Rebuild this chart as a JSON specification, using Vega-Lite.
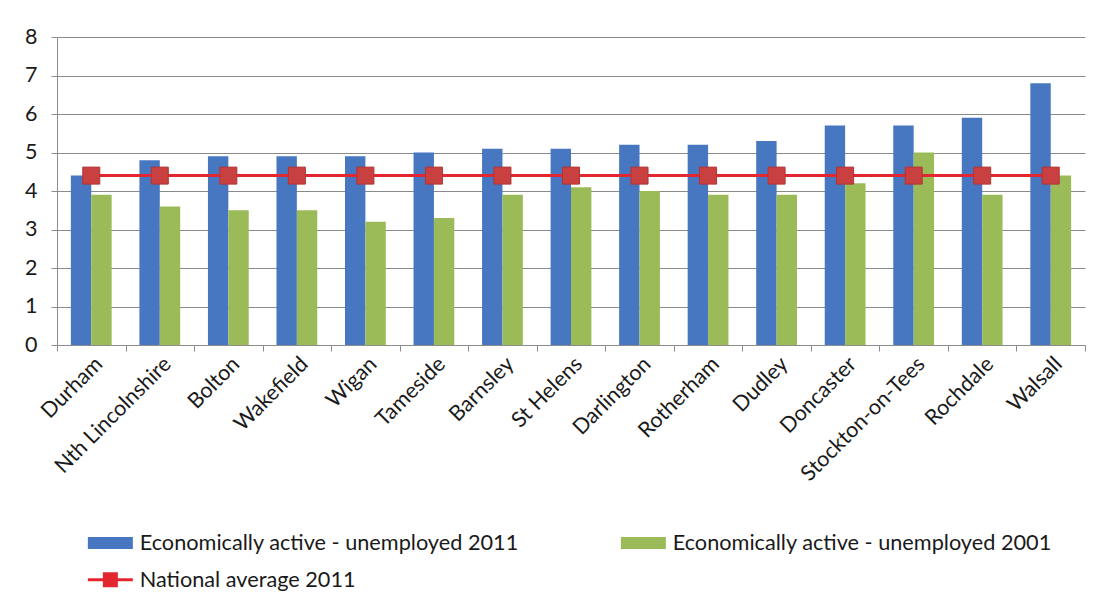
{
  "$schema": "https://vega.github.io/schema/vega-lite/v6.json",
  "autosize": {"type": "none"},
  "padding": {"left": 57, "top": 37, "right": 31, "bottom": 261},
  "width": 1028,
  "height": 308,
  "background": "white",
  "config": {
    "font": "Lato",
    "view": {"stroke": null},
    "axis": {"labelFont": "Lato", "labelFontSize": 21.5, "labelColor": "#1a1a1a", "titleFont": "Lato"},
    "legend": {"labelFont": "Lato", "labelFontSize": 21.7, "labelColor": "#1a1a1a"}
  },
  "data": {
    "values": [
      {"area": "Durham", "series": "Economically active - unemployed 2011", "value": 4.4},
      {"area": "Nth Lincolnshire", "series": "Economically active - unemployed 2011", "value": 4.8},
      {"area": "Bolton", "series": "Economically active - unemployed 2011", "value": 4.9},
      {"area": "Wakefield", "series": "Economically active - unemployed 2011", "value": 4.9},
      {"area": "Wigan", "series": "Economically active - unemployed 2011", "value": 4.9},
      {"area": "Tameside", "series": "Economically active - unemployed 2011", "value": 5.0},
      {"area": "Barnsley", "series": "Economically active - unemployed 2011", "value": 5.1},
      {"area": "St Helens", "series": "Economically active - unemployed 2011", "value": 5.1},
      {"area": "Darlington", "series": "Economically active - unemployed 2011", "value": 5.2},
      {"area": "Rotherham", "series": "Economically active - unemployed 2011", "value": 5.2},
      {"area": "Dudley", "series": "Economically active - unemployed 2011", "value": 5.3},
      {"area": "Doncaster", "series": "Economically active - unemployed 2011", "value": 5.7},
      {"area": "Stockton-on-Tees", "series": "Economically active - unemployed 2011", "value": 5.7},
      {"area": "Rochdale", "series": "Economically active - unemployed 2011", "value": 5.9},
      {"area": "Walsall", "series": "Economically active - unemployed 2011", "value": 6.8},
      {"area": "Durham", "series": "Economically active - unemployed 2001", "value": 3.9},
      {"area": "Nth Lincolnshire", "series": "Economically active - unemployed 2001", "value": 3.6},
      {"area": "Bolton", "series": "Economically active - unemployed 2001", "value": 3.5},
      {"area": "Wakefield", "series": "Economically active - unemployed 2001", "value": 3.5},
      {"area": "Wigan", "series": "Economically active - unemployed 2001", "value": 3.2},
      {"area": "Tameside", "series": "Economically active - unemployed 2001", "value": 3.3},
      {"area": "Barnsley", "series": "Economically active - unemployed 2001", "value": 3.9},
      {"area": "St Helens", "series": "Economically active - unemployed 2001", "value": 4.1},
      {"area": "Darlington", "series": "Economically active - unemployed 2001", "value": 4.0},
      {"area": "Rotherham", "series": "Economically active - unemployed 2001", "value": 3.9},
      {"area": "Dudley", "series": "Economically active - unemployed 2001", "value": 3.9},
      {"area": "Doncaster", "series": "Economically active - unemployed 2001", "value": 4.2},
      {"area": "Stockton-on-Tees", "series": "Economically active - unemployed 2001", "value": 5.0},
      {"area": "Rochdale", "series": "Economically active - unemployed 2001", "value": 3.9},
      {"area": "Walsall", "series": "Economically active - unemployed 2001", "value": 4.4},
      {"area": "Durham", "series": "National average 2011", "value": 4.4},
      {"area": "Nth Lincolnshire", "series": "National average 2011", "value": 4.4},
      {"area": "Bolton", "series": "National average 2011", "value": 4.4},
      {"area": "Wakefield", "series": "National average 2011", "value": 4.4},
      {"area": "Wigan", "series": "National average 2011", "value": 4.4},
      {"area": "Tameside", "series": "National average 2011", "value": 4.4},
      {"area": "Barnsley", "series": "National average 2011", "value": 4.4},
      {"area": "St Helens", "series": "National average 2011", "value": 4.4},
      {"area": "Darlington", "series": "National average 2011", "value": 4.4},
      {"area": "Rotherham", "series": "National average 2011", "value": 4.4},
      {"area": "Dudley", "series": "National average 2011", "value": 4.4},
      {"area": "Doncaster", "series": "National average 2011", "value": 4.4},
      {"area": "Stockton-on-Tees", "series": "National average 2011", "value": 4.4},
      {"area": "Rochdale", "series": "National average 2011", "value": 4.4},
      {"area": "Walsall", "series": "National average 2011", "value": 4.4}
    ]
  },
  "encoding": {
    "x": {
      "field": "area", "type": "nominal", "sort": null, "title": null,
      "scale": {"paddingInner": 0, "paddingOuter": 0},
      "axis": {"labelAngle": -45, "tickBand": "extent", "tickSize": 6, "tickColor": "#8c8c8c", "domainColor": "#8c8c8c", "labelPadding": 2}
    },
    "y": {
      "field": "value", "type": "quantitative", "title": null,
      "scale": {"domain": [0, 8], "nice": false},
      "axis": {"values": [0, 1, 2, 3, 4, 5, 6, 7, 8], "gridColor": "#8a8a8a", "gridWidth": 1, "domainColor": "#8c8c8c", "tickColor": "#8c8c8c", "tickSize": 6, "labelPadding": 14}
    }
  },
  "layer": [
    {
      "transform": [{"filter": "datum.series !== 'National average 2011'"}],
      "mark": {"type": "bar"},
      "encoding": {
        "xOffset": {"field": "series", "type": "nominal", "sort": null,
          "scale": {"domain": ["Economically active - unemployed 2011", "Economically active - unemployed 2001"], "paddingInner": 0, "paddingOuter": 0.68}},
        "color": {
          "field": "series", "type": "nominal", "sort": null, "title": null,
          "scale": {
            "domain": ["Economically active - unemployed 2011", "Economically active - unemployed 2001", "National average 2011"],
            "range": ["#4677C0", "#9BBB59", "#E3262F"]
          },
          "legend": {
            "orient": "none", "direction": "horizontal", "legendX": 42.5, "legendY": 495,
            "columns": 2, "columnPadding": 101, "rowPadding": 12,
            "padding": 0, "labelLimit": 600, "symbolSize": 400, "labelOffset": 18.5,
            "encode": {
              "symbols": {
                "update": {
                  "shape": {"signal": "datum.value === 'National average 2011' ? 'M-2.25,0H2.25M-0.6,-0.6H0.6V0.6H-0.6Z' : 'M-2.25,-0.6H2.25V0.6H-2.25Z'"},
                  "fill": {"signal": "datum.value === 'National average 2011' ? '#C94040' : scale('color', datum.value)"},
                  "stroke": {"signal": "scale('color', datum.value)"},
                  "strokeWidth": {"signal": "datum.value === 'National average 2011' ? 3 : 0"},
                  "opacity": {"value": 1},
                  "fillOpacity": {"value": 1}
                }
              }
            }
          }
        }
      }
    },
    {
      "transform": [{"filter": "datum.series === 'National average 2011'"}],
      "mark": {"type": "line", "strokeWidth": 3},
      "encoding": {
        "color": {"field": "series", "type": "nominal"}
      }
    },
    {
      "transform": [{"filter": "datum.series === 'National average 2011'"}],
      "mark": {"type": "point", "shape": "square", "size": 289, "filled": true, "fill": "#C94040", "stroke": "#B03535", "strokeWidth": 1, "opacity": 1}
    }
  ]
}
